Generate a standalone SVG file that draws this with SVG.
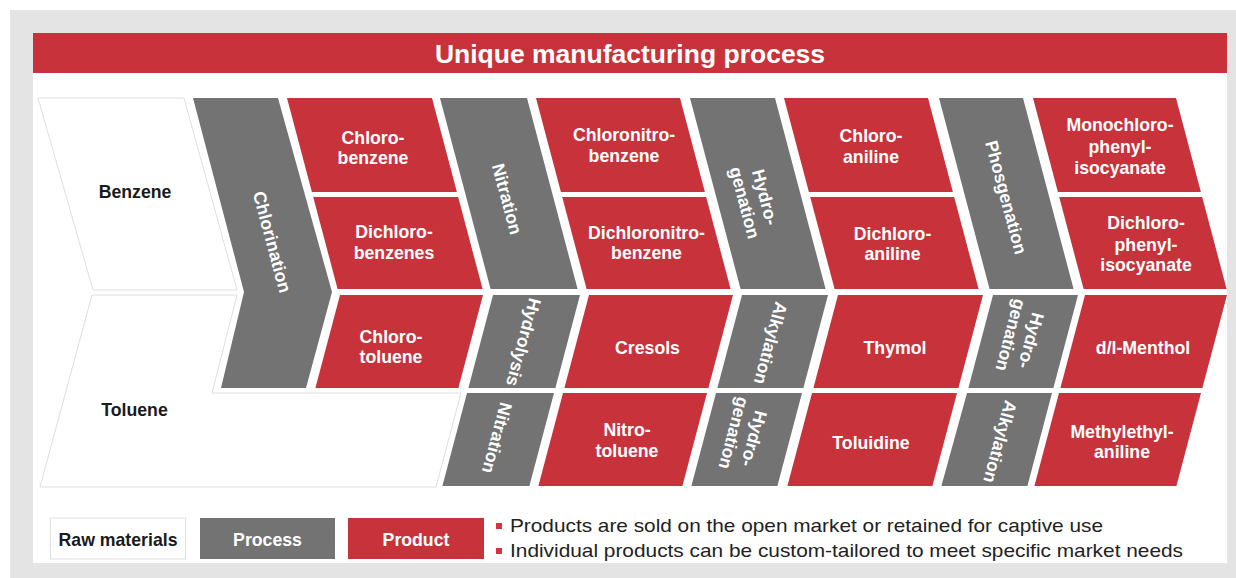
<svg xmlns="http://www.w3.org/2000/svg" width="1236" height="578" viewBox="0 0 1236 578">
<style>
.raw{fill:#ffffff;stroke:#dfdfdf;stroke-width:1}
.proc{fill:#737373}
.prod{fill:#c8333b}
.t{font-family:"Liberation Sans",Arial,sans-serif;font-weight:bold;font-size:17.7px;fill:#ffffff;text-anchor:middle}
.tk{fill:#1a1a1a}
.note{font-family:"Liberation Sans",Arial,sans-serif;font-size:19px;fill:#222222}
</style>
<rect x="0" y="0" width="1236" height="578" fill="#ffffff"/>
<rect x="10" y="10" width="1226" height="568" fill="#e4e4e4"/>
<rect x="33" y="73" width="1194" height="490" fill="#ffffff"/>
<g id="header">
<rect x="33" y="33" width="1194" height="40" class="prod"/>
<text x="630" y="63" class="t" style="font-size:26.5px">Unique manufacturing process</text>
</g>

<g id="benzene">
<polygon class="raw" points="38,98 184,98 237,290 93,290"/>
<text class="t tk" x="135" y="198.3">Benzene</text>
</g>
<g id="toluene">
<polygon class="raw" points="92,295 237,295 212,393 461,393 436,487 40,487"/>
<text class="t tk" x="134.5" y="416.3">Toluene</text>
</g>

<g id="chlorination">
<polygon class="proc" points="193,98 278,98 332,292 306,388 221,388 244,292"/>
<text class="t" transform="translate(272,242) rotate(75)" y="6">Chlorination</text>
</g>

<g id="chlorobenzene">
<polygon class="prod" points="287,98 432,98 456.9,192 311.9,192"/>
<text class="t"><tspan x="373" y="143.8">Chloro-</tspan><tspan x="373" y="164.3">benzene</tspan></text>
</g>
<g id="dichlorobenzenes">
<polygon class="prod" points="313.2,197 458.2,197 482.6,289 337.6,289"/>
<text class="t"><tspan x="394" y="238.3">Dichloro-</tspan><tspan x="394" y="259.3">benzenes</tspan></text>
</g>
<g id="nitration1">
<polygon class="proc" points="440,98 527,98 577.6,289 490.6,289"/>
<text class="t" transform="translate(507,199) rotate(75)" y="6">Nitration</text>
</g>
<g id="chloronitrobenzene">
<polygon class="prod" points="536,98 680,98 704.9,192 560.9,192"/>
<text class="t"><tspan x="624" y="141.3">Chloronitro-</tspan><tspan x="624" y="162.3">benzene</tspan></text>
</g>
<g id="dichloronitrobenzene">
<polygon class="prod" points="562.2,197 706.2,197 730.6,289 586.6,289"/>
<text class="t"><tspan x="646.5" y="239.3">Dichloronitro-</tspan><tspan x="646.5" y="259.3">benzene</tspan></text>
</g>
<g id="hydrogenation1">
<polygon class="proc" points="690,98 775,98 825.6,289 740.6,289"/>
<text class="t" transform="translate(755,200) rotate(75)"><tspan x="0" y="-4.3">Hydro-</tspan><tspan x="0" y="16.7">genation</tspan></text>
</g>
<g id="chloroaniline">
<polygon class="prod" points="784,98 928,98 952.9,192 808.9,192"/>
<text class="t"><tspan x="871" y="142.3">Chloro-</tspan><tspan x="871" y="163.3">aniline</tspan></text>
</g>
<g id="dichloroaniline">
<polygon class="prod" points="810.2,197 954.2,197 978.6,289 834.6,289"/>
<text class="t"><tspan x="892.5" y="240.3">Dichloro-</tspan><tspan x="892.5" y="260.3">aniline</tspan></text>
</g>
<g id="phosgenation">
<polygon class="proc" points="939,98 1023,98 1073.6,289 989.6,289"/>
<text class="t" transform="translate(1005.5,197.5) rotate(75)" y="5.5">Phosgenation</text>
</g>
<g id="monochlorophenylisocyanate">
<polygon class="prod" points="1033,98 1176,98 1200.9,192 1057.9,192"/>
<text class="t"><tspan x="1120" y="131.3">Monochloro-</tspan><tspan x="1120" y="152.8">phenyl-</tspan><tspan x="1120" y="174.3">isocyanate</tspan></text>
</g>
<g id="dichlorophenylisocyanate">
<polygon class="prod" points="1059.2,197 1202.2,197 1226.6,289 1083.6,289"/>
<text class="t"><tspan x="1146" y="229.3">Dichloro-</tspan><tspan x="1146" y="250.8">phenyl-</tspan><tspan x="1146" y="271.3">isocyanate</tspan></text>
</g>

<g id="chlorotoluene">
<polygon class="prod" points="340,295 483,295 458.4,388 315.4,388"/>
<text class="t"><tspan x="391" y="343.3">Chloro-</tspan><tspan x="391" y="363.3">toluene</tspan></text>
</g>
<g id="hydrolysis">
<polygon class="proc" points="493,295 580,295 555.4,388 468.4,388"/>
<text class="t" transform="translate(523,342) rotate(105)" y="5.5">Hydrolysis</text>
</g>
<g id="cresols">
<polygon class="prod" points="589,295 733,295 708.4,388 564.4,388"/>
<text class="t" x="647.5" y="354.3">Cresols</text>
</g>
<g id="alkylation1">
<polygon class="proc" points="742,295 828,295 803.4,388 717.4,388"/>
<text class="t" transform="translate(770,343) rotate(105)" y="5.5">Alkylation</text>
</g>
<g id="thymol">
<polygon class="prod" points="838,295 983,295 958.4,388 813.4,388"/>
<text class="t" x="895" y="354.3">Thymol</text>
</g>
<g id="hydrogenation2">
<polygon class="proc" points="993,295 1078,295 1053.4,388 968.4,388"/>
<text class="t" transform="translate(1021,338) rotate(105)"><tspan x="0" y="-4.3">Hydro-</tspan><tspan x="0" y="16.7">genation</tspan></text>
</g>
<g id="menthol">
<polygon class="prod" points="1085,295 1227,295 1202.4,388 1060.4,388"/>
<text class="t" x="1143" y="354.3">d/l-Menthol</text>
</g>

<g id="nitration2">
<polygon class="proc" points="467,393 554,393 529.4,486 442.4,486"/>
<text class="t" transform="translate(497,438) rotate(105)" y="6">Nitration</text>
</g>
<g id="nitrotoluene">
<polygon class="prod" points="563,393 707,393 682.4,486 538.4,486"/>
<text class="t"><tspan x="627" y="436.3">Nitro-</tspan><tspan x="627" y="457.3">toluene</tspan></text>
</g>
<g id="hydrogenation3">
<polygon class="proc" points="716,393 802,393 777.4,486 691.4,486"/>
<text class="t" transform="translate(744,436) rotate(105)"><tspan x="0" y="-4.3">Hydro-</tspan><tspan x="0" y="16.7">genation</tspan></text>
</g>
<g id="toluidine">
<polygon class="prod" points="812,393 957,393 932.4,486 787.4,486"/>
<text class="t" x="871" y="449.3">Toluidine</text>
</g>
<g id="alkylation2">
<polygon class="proc" points="967,393 1052,393 1027.4,486 941.4,486"/>
<text class="t" transform="translate(999.5,441.5) rotate(105)" y="5.5">Alkylation</text>
</g>
<g id="methylethylaniline">
<polygon class="prod" points="1059,393 1201,393 1176.4,486 1034.4,486"/>
<text class="t"><tspan x="1122" y="438.3">Methylethyl-</tspan><tspan x="1122" y="458.3">aniline</tspan></text>
</g>

<g id="legend">
<rect class="raw" x="50.5" y="518" width="135" height="41"/>
<text class="t tk" x="118" y="546">Raw materials</text>
<rect class="proc" x="200" y="518" width="135" height="41"/>
<text class="t" x="267.5" y="546">Process</text>
<rect class="prod" x="348" y="518" width="136" height="41"/>
<text class="t" x="416" y="546">Product</text>
</g>
<g id="notes">
<rect x="496" y="523" width="6" height="6" fill="#d8323c"/>
<rect x="496" y="548" width="6" height="6" fill="#d8323c"/>
<text class="note" x="510" y="532.3" textLength="593" lengthAdjust="spacingAndGlyphs">Products are sold on the open market or retained for captive use</text>
<text class="note" x="510" y="556.7" textLength="673" lengthAdjust="spacingAndGlyphs">Individual products can be custom-tailored to meet specific market needs</text>
</g>
</svg>
